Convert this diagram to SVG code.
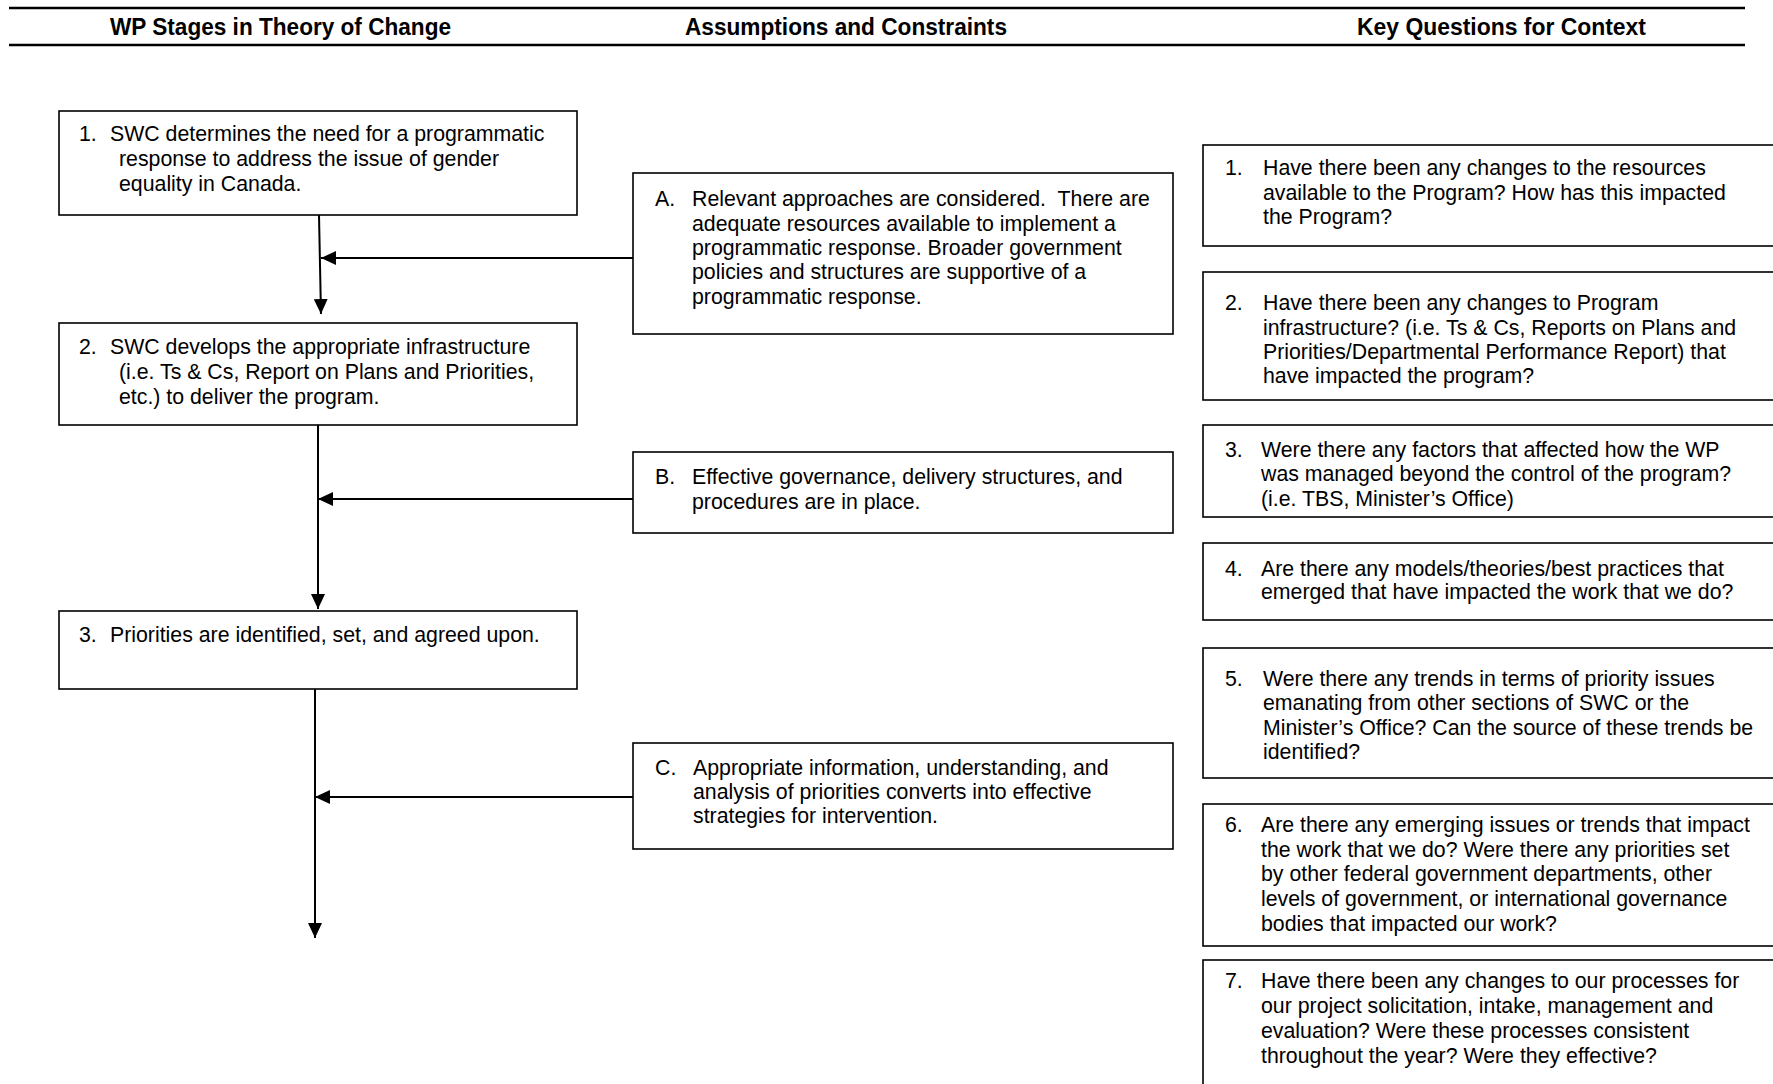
<svg xmlns="http://www.w3.org/2000/svg" width="1773" height="1084" viewBox="0 0 1773 1084">
<style>
.box{fill:#fff;stroke:#000;stroke-width:1.6}
.t{font-family:"Liberation Sans",Arial,sans-serif;font-size:21.3px;fill:#000}
.h{font-family:"Liberation Sans",Arial,sans-serif;font-size:23px;font-weight:bold;fill:#000}
.rule{stroke:#000;stroke-width:2.4}
.con{stroke:#000;stroke-width:2;fill:none}
</style>
<defs>
<marker id="arr" markerUnits="userSpaceOnUse" markerWidth="16" markerHeight="14" refX="15" refY="7" orient="auto">
<path d="M0,0 L15,7 L0,14 z" fill="#000"/>
</marker>
</defs>
<rect width="1773" height="1084" fill="#fff"/>
<g id="header">
<line class="rule" x1="9" y1="8" x2="1745" y2="8"/>
<line class="rule" x1="9" y1="45" x2="1745" y2="45"/>
<text class="h" x="110" y="35" textLength="341" lengthAdjust="spacingAndGlyphs">WP Stages in Theory of Change</text>
<text class="h" x="685" y="35" textLength="322" lengthAdjust="spacingAndGlyphs">Assumptions and Constraints</text>
<text class="h" x="1357" y="35" textLength="289" lengthAdjust="spacingAndGlyphs">Key Questions for Context</text>
</g>
<g id="connectors">
<line class="con" x1="319" y1="215" x2="321" y2="314" marker-end="url(#arr)"/>
<line class="con" x1="638" y1="258" x2="321" y2="258" marker-end="url(#arr)"/>
<line class="con" x1="318" y1="425" x2="318" y2="609" marker-end="url(#arr)"/>
<line class="con" x1="638" y1="499" x2="318" y2="499" marker-end="url(#arr)"/>
<line class="con" x1="315" y1="689" x2="315" y2="938" marker-end="url(#arr)"/>
<line class="con" x1="638" y1="797" x2="315" y2="797" marker-end="url(#arr)"/>
</g>
<g id="node1">
<rect class="box" x="59" y="111" width="518" height="104"/>
<text class="t" x="79" y="141">1.</text>
<text class="t" x="110" y="141">SWC determines the need for a programmatic</text>
<text class="t" x="119" y="166">response to address the issue of gender</text>
<text class="t" x="119" y="191">equality in Canada.</text>
</g>
<g id="node2">
<rect class="box" x="59" y="323" width="518" height="102"/>
<text class="t" x="79" y="354">2.</text>
<text class="t" x="110" y="354">SWC develops the appropriate infrastructure</text>
<text class="t" x="119" y="379">(i.e. Ts &amp; Cs, Report on Plans and Priorities,</text>
<text class="t" x="119" y="404">etc.) to deliver the program.</text>
</g>
<g id="node3">
<rect class="box" x="59" y="611" width="518" height="78"/>
<text class="t" x="79" y="642">3.</text>
<text class="t" x="110" y="642">Priorities are identified, set, and agreed upon.</text>
</g>
<g id="nodeA">
<rect class="box" x="633" y="173" width="540" height="161"/>
<text class="t" x="655" y="206">A.</text>
<text class="t" x="692" y="206">Relevant approaches are considered. <tspan dx="6">There are</tspan></text>
<text class="t" x="692" y="231">adequate resources available to implement a</text>
<text class="t" x="692" y="255">programmatic response. Broader government</text>
<text class="t" x="692" y="279">policies and structures are supportive of a</text>
<text class="t" x="692" y="304">programmatic response.</text>
</g>
<g id="nodeB">
<rect class="box" x="633" y="452" width="540" height="81"/>
<text class="t" x="655" y="484">B.</text>
<text class="t" x="692" y="484">Effective governance, delivery structures, and</text>
<text class="t" x="692" y="509">procedures are in place.</text>
</g>
<g id="nodeC">
<rect class="box" x="633" y="743" width="540" height="106"/>
<text class="t" x="655" y="775">C.</text>
<text class="t" x="693" y="775">Appropriate information, understanding, and</text>
<text class="t" x="693" y="799">analysis of priorities converts into effective</text>
<text class="t" x="693" y="823">strategies for intervention.</text>
</g>
<g id="q1">
<rect class="box" x="1203" y="145" width="572" height="101"/>
<text class="t" x="1225" y="175">1.</text>
<text class="t" x="1263" y="175">Have there been any changes to the resources</text>
<text class="t" x="1263" y="200">available to the Program? How has this impacted</text>
<text class="t" x="1263" y="224">the Program?</text>
</g>
<g id="q2">
<rect class="box" x="1203" y="272" width="572" height="128"/>
<text class="t" x="1225" y="310">2.</text>
<text class="t" x="1263" y="310">Have there been any changes to Program</text>
<text class="t" x="1263" y="335">infrastructure? (i.e. Ts &amp; Cs, Reports on Plans and</text>
<text class="t" x="1263" y="359">Priorities/Departmental Performance Report) that</text>
<text class="t" x="1263" y="383">have impacted the program?</text>
</g>
<g id="q3">
<rect class="box" x="1203" y="425" width="572" height="92"/>
<text class="t" x="1225" y="457">3.</text>
<text class="t" x="1261" y="457">Were there any factors that affected how the WP</text>
<text class="t" x="1261" y="481">was managed beyond the control of the program?</text>
<text class="t" x="1261" y="506">(i.e. TBS, Minister’s Office)</text>
</g>
<g id="q4">
<rect class="box" x="1203" y="543" width="572" height="77"/>
<text class="t" x="1225" y="576">4.</text>
<text class="t" x="1261" y="576">Are there any models/theories/best practices that</text>
<text class="t" x="1261" y="599">emerged that have impacted the work that we do?</text>
</g>
<g id="q5">
<rect class="box" x="1203" y="648" width="572" height="130"/>
<text class="t" x="1225" y="686">5.</text>
<text class="t" x="1263" y="686">Were there any trends in terms of priority issues</text>
<text class="t" x="1263" y="710">emanating from other sections of SWC or the</text>
<text class="t" x="1263" y="735">Minister’s Office? Can the source of these trends be</text>
<text class="t" x="1263" y="759">identified?</text>
</g>
<g id="q6">
<rect class="box" x="1203" y="804" width="572" height="142"/>
<text class="t" x="1225" y="832">6.</text>
<text class="t" x="1261" y="832">Are there any emerging issues or trends that impact</text>
<text class="t" x="1261" y="857">the work that we do? Were there any priorities set</text>
<text class="t" x="1261" y="881">by other federal government departments, other</text>
<text class="t" x="1261" y="906">levels of government, or international governance</text>
<text class="t" x="1261" y="931">bodies that impacted our work?</text>
</g>
<g id="q7">
<rect class="box" x="1203" y="960" width="572" height="140"/>
<text class="t" x="1225" y="988">7.</text>
<text class="t" x="1261" y="988">Have there been any changes to our processes for</text>
<text class="t" x="1261" y="1013">our project solicitation, intake, management and</text>
<text class="t" x="1261" y="1038">evaluation? Were these processes consistent</text>
<text class="t" x="1261" y="1063">throughout the year? Were they effective?</text>
</g>
</svg>
